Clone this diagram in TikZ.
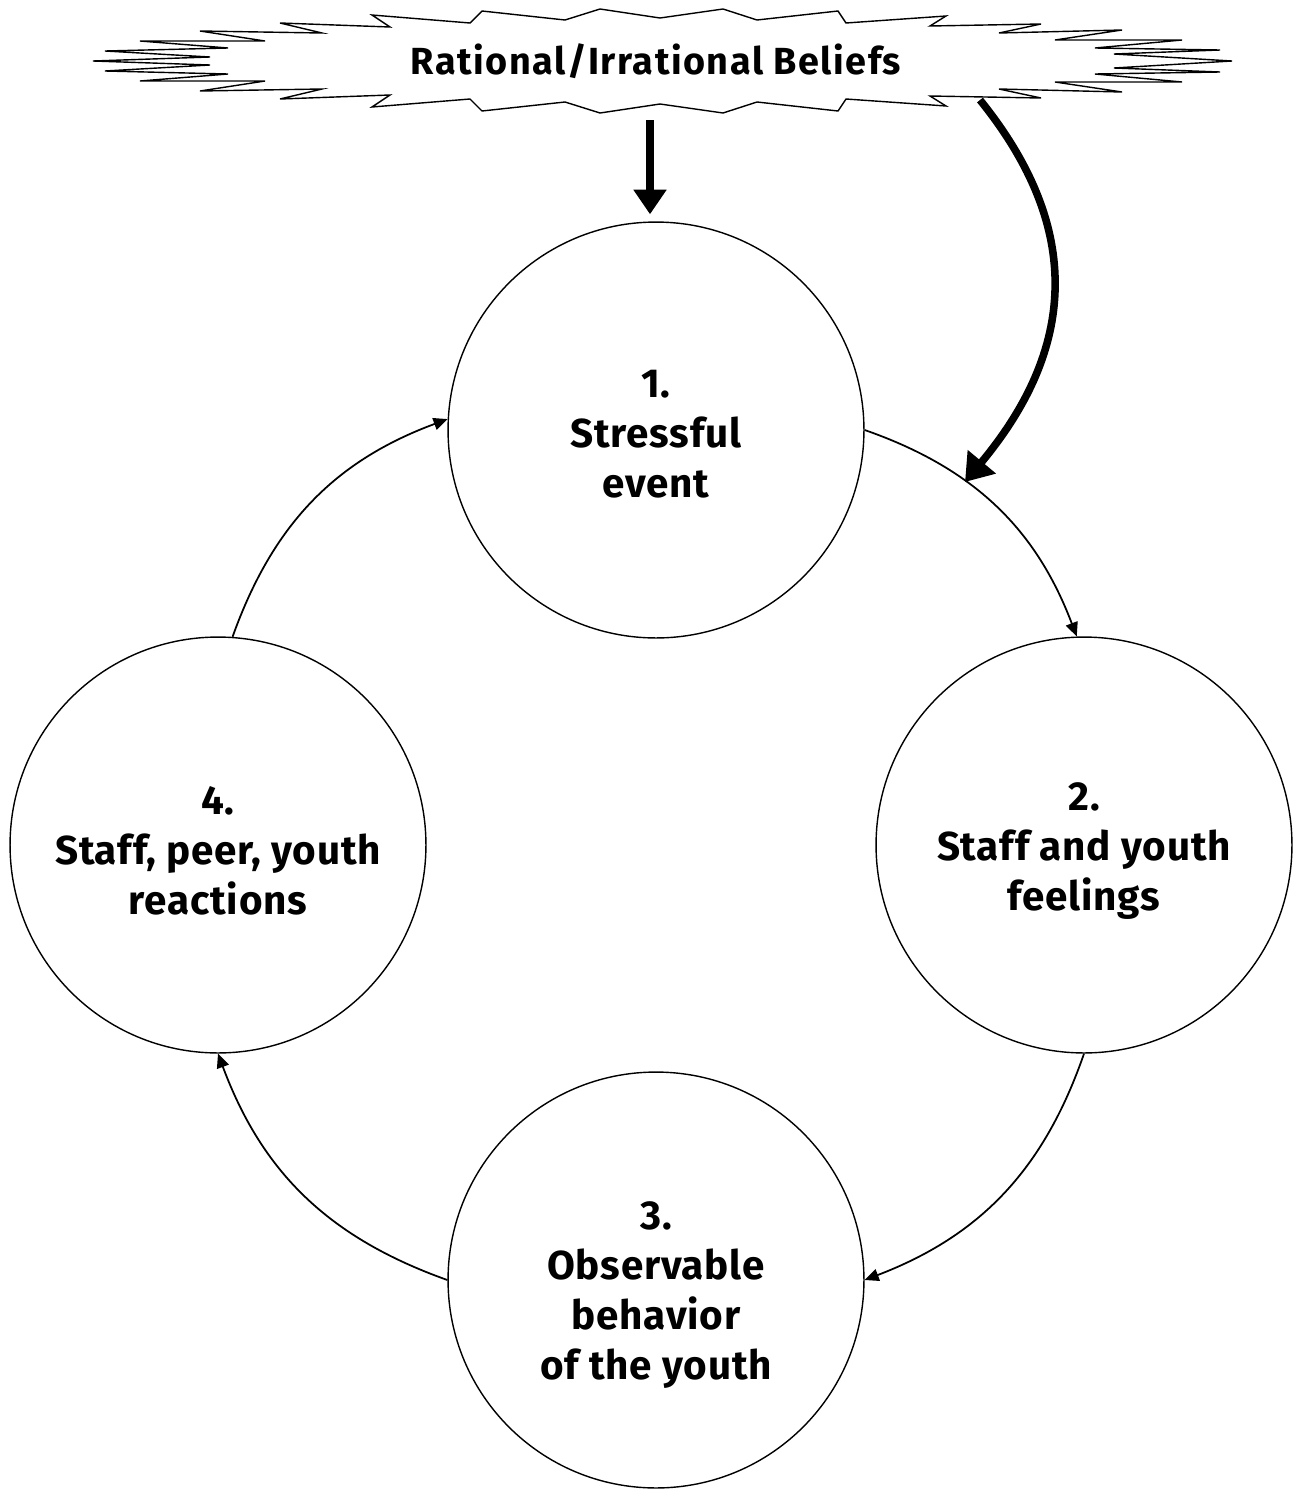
\documentclass[tikz,border=0pt]{standalone}
\usepackage{fontspec}
\setmainfont{Fira Sans}
\usetikzlibrary{arrows.meta}
\begin{document}
\begin{tikzpicture}[x=0.02cm,y=0.02cm,
  stage/.style={circle,draw,line width=0.8pt,minimum size=8.32cm,inner sep=0pt},
  stagetext/.style={align=center,inner sep=0pt,
    font=\fontsize{23}{28.35}\selectfont\bfseries\addfontfeatures{LetterSpace=2}},
  flow/.style={line width=1pt,-{Triangle[length=8pt,width=7pt]}},
  bigarrow/.style={line width=4.5pt,-{Triangle[length=14pt,width=18pt]}},
  burst/.style={line width=0.8pt,fill=white,line join=miter},
  titletext/.style={font=\fontsize{21.5}{25}\selectfont\bfseries\addfontfeatures{LetterSpace=4}},
]
\path[use as bounding box] (0,0) rectangle (1292,-1491);

% starburst
\draw[burst] (93,-61) -- (210,-57) -- (105,-51) -- (228,-48) -- (140,-41) -- (265,-41)
  -- (200,-31) -- (322,-33) -- (280,-23) -- (390,-27) -- (372,-15) -- (470,-23)
  -- (482,-11) -- (565,-20) -- (600,-9) -- (660,-18) -- (723,-9) -- (757,-20)
  -- (838,-11) -- (846,-23) -- (946,-16) -- (930,-26) -- (1041,-24) -- (999,-33)
  -- (1122,-30) -- (1055,-40) -- (1182,-40) -- (1095,-48) -- (1220,-50) -- (1114,-54)
  -- (1232,-61)
  -- (1114,-68) -- (1220,-72) -- (1095,-74) -- (1182,-82) -- (1055,-82) -- (1122,-92)
  -- (999,-89) -- (1041,-98) -- (930,-96) -- (946,-106) -- (846,-99) -- (838,-111)
  -- (757,-102) -- (723,-113) -- (660,-104) -- (600,-113) -- (565,-102) -- (482,-111)
  -- (470,-99) -- (372,-107) -- (390,-95) -- (280,-99) -- (322,-89) -- (200,-91)
  -- (265,-81) -- (140,-81) -- (228,-74) -- (105,-71) -- (210,-65) -- cycle;
\node[titletext] (title) at (656,-61) {Rational/Irrational Beliefs};

% stages
\node[stage] (c1) at (656,-430) {};
\node[stage] (c2) at (1084,-845) {};
\node[stage] (c3) at (656,-1280) {};
\node[stage] (c4) at (218,-845) {};
\node[stagetext] (t1) at ([yshift=-4*0.02cm]c1) {1.\\Stressful\\event};
\node[stagetext] (t2) at ([yshift=-6*0.02cm]c2) {2.\\Staff and youth\\feelings};
\node[stagetext] (t3) at ([yshift=-15*0.02cm]c3) {3.\\Observable\\behavior\\of the youth};
\node[stagetext] (t4) at ([yshift=-6*0.02cm]c4) {4.\\Staff, peer, youth\\reactions};

% cycle connectors
\draw[flow] (c1.east) to[bend left=25] (c2.92);
\draw[flow] (c2.south) to[bend left=25] (c3.east);
\draw[flow] (c3.west) to[bend left=25] (c4.south);
\draw[flow] (c4.86) to[bend left=25] (c1.177);

% belief arrows
\coordinate (s0) at (650,-120);
\draw[bigarrow,shorten >=4pt] (s0) -- (s0 |- c1.north);
\coordinate (b0) at (980,-100);
\coordinate (b1) at (965,-482);
\draw[line width=4.3pt,-{Triangle[length=15pt,width=20pt]}] (b0) .. controls (1085,-230) and (1075,-350) .. (b1);
\end{tikzpicture}
\end{document}
